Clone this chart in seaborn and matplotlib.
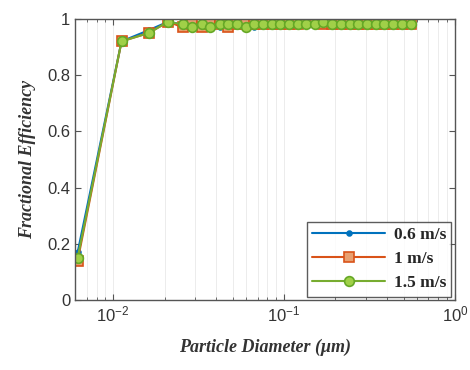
import matplotlib
matplotlib.use("Agg")
import matplotlib.pyplot as plt
import seaborn as sns
import pandas as pd
from matplotlib.ticker import LogLocator, NullFormatter, FixedLocator

# Particle diameters (um) and fractional efficiency at three face velocities
diameter_um = [0.0062, 0.0112, 0.0162, 0.0210, 0.0255, 0.0290, 0.0330, 0.0370,
               0.0420, 0.0470, 0.0530, 0.0600, 0.0670, 0.0750, 0.0850, 0.0950,
               0.1070, 0.1200, 0.1350, 0.1520, 0.1700, 0.1910, 0.2150, 0.2420,
               0.2720, 0.3050, 0.3430, 0.3860, 0.4340, 0.4870, 0.5500]
eff_06 = [0.17, 0.92, 0.96, 0.99, 0.98, 0.97, 0.98, 0.98, 0.97, 0.98, 0.98,
          0.98, 0.97, 0.98, 0.98, 0.98, 0.98, 0.98, 0.99, 0.98, 0.98, 0.98,
          0.98, 0.98, 0.99, 0.98, 0.98, 0.98, 0.98, 0.98, 0.98]
eff_10 = [0.14, 0.92, 0.95, 0.99, 0.97, 0.98, 0.97, 0.98, 0.98, 0.97, 0.98,
          0.98, 0.98, 0.98, 0.98, 0.98, 0.98, 0.98, 0.99, 0.99, 0.98, 0.98,
          0.98, 0.98, 0.98, 0.98, 0.98, 0.98, 0.98, 0.98, 0.98]
eff_15 = [0.15, 0.92, 0.95, 0.99, 0.98, 0.97, 0.98, 0.97, 0.98, 0.98, 0.98,
          0.97, 0.98, 0.98, 0.98, 0.98, 0.98, 0.98, 0.98, 0.98, 0.99, 0.98,
          0.98, 0.98, 0.98, 0.98, 0.98, 0.98, 0.98, 0.98, 0.98]
series_labels = ["0.6 m/s", "1 m/s", "1.5 m/s"]
y_ticks = [0, 0.2, 0.4, 0.6, 0.8, 1]
y_tick_labels = ["0", "0.2", "0.4", "0.6", "0.8", "1"]

sns.set_style("ticks")
plt.rcParams["font.family"] = ["Liberation Sans", "DejaVu Sans"]

fig = plt.figure(figsize=(4.7, 3.7), dpi=100)
ax = fig.add_axes([0.160, 0.189, 0.808, 0.760])

styles = [
    dict(color="#0072BD", marker="o", markersize=3.5, mfc="#0072BD", mec="#0072BD"),
    dict(color="#D95319", marker="s", markersize=6.5, mfc="#E8A070", mec="#D95319"),
    dict(color="#77AC30", marker="o", markersize=7, mfc="#A0D048", mec="#66A826"),
]

for vals, lab, st in zip([eff_06, eff_10, eff_15], series_labels, styles):
    df = pd.DataFrame({"d": diameter_um, "e": vals})
    sns.lineplot(data=df, x="d", y="e", ax=ax, label=lab, color=st["color"],
                 linewidth=1.5, marker=st["marker"], markersize=st["markersize"],
                 markerfacecolor=st["mfc"], markeredgecolor=st["mec"],
                 markeredgewidth=1.2, estimator=None, sort=False)

ax.set_xscale("log")
ax.set_xlim(0.006, 1)
ax.set_ylim(0, 1)
ax.xaxis.set_major_locator(FixedLocator([1e-2, 1e-1, 1e0]))
ax.xaxis.set_minor_locator(LogLocator(base=10, subs=range(2, 10)))
ax.xaxis.set_minor_formatter(NullFormatter())
ax.set_yticks(y_ticks)
ax.set_yticklabels(y_tick_labels)

# vertical grid on major and minor decades only
ax.grid(True, axis="x", which="both", color="#ececec", linewidth=0.7)
ax.grid(False, axis="y")
ax.set_axisbelow(True)

for s in ax.spines.values():
    s.set_visible(True)
    s.set_color("#555555")
    s.set_linewidth(1.0)
ax.tick_params(axis="both", which="both", direction="in", top=True, right=True,
               color="#555555", labelsize=12, labelcolor="#333333")
ax.tick_params(which="major", length=4)
ax.tick_params(which="minor", length=2.5)

ax.set_xlabel("Particle Diameter (\u03bcm)", family=["Liberation Serif", "DejaVu Serif"],
              fontstyle="italic", fontweight="bold", fontsize=13, color="#333333",
              labelpad=10)
ax.set_ylabel("Fractional Efficiency", family=["Liberation Serif", "DejaVu Serif"],
              fontstyle="italic", fontweight="bold", fontsize=13, color="#333333",
              labelpad=8)

leg = ax.legend(loc="lower right", frameon=True, fancybox=False,
                prop={"family": ["Liberation Serif", "DejaVu Serif"],
                      "weight": "bold", "size": 12.5},
                handlelength=4.2, borderpad=0.3, labelspacing=0.45,
                handletextpad=0.5, borderaxespad=0.2,
                bbox_to_anchor=(1.0, 0.0))
leg.get_frame().set_edgecolor("#333333")
leg.get_frame().set_linewidth(1.0)

fig.savefig("out.png", dpi=100)
